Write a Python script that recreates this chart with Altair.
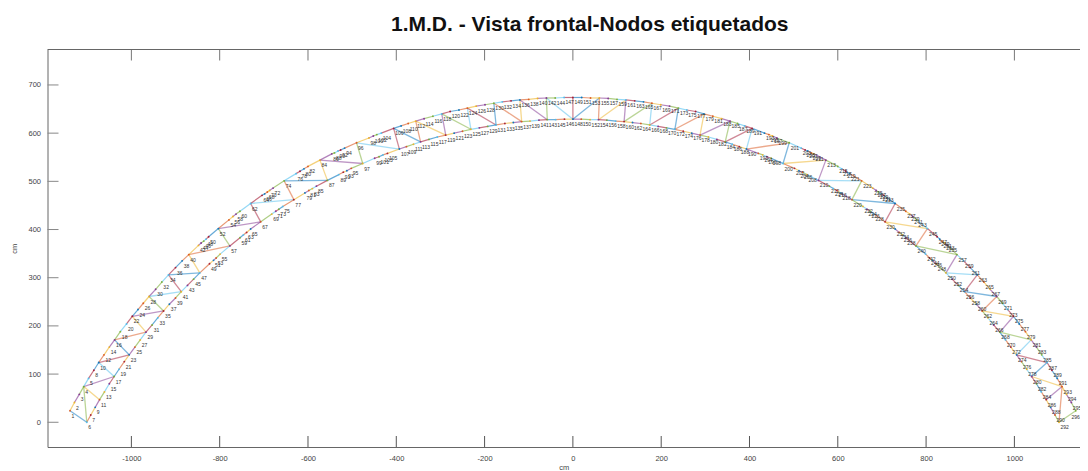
import altair as alt
import pandas as pd

TITLE = "1.M.D. - Vista frontal-Nodos etiquetados"
FONT = "Liberation Sans"
W, H = 1032.5, 397.5

# Upper chord nodes, left to right (cm)
top_x = [-1139,-1129,-1118,-1108,-1097,-1085,-1074,-1062,-1050,-1038,-1025,-1011,-998,-985,-973,-960,-945,-931,-916,-900,-885,-870,
         -848,-842,-836,-831,-825,-803,-779,-770,-763,-754,-730,-704,-698,-692,-687,-679,-654,-627,-618,-609,-600,-573,-546,-540,-532,-526,-517,-490,
         -462,-452,-444,-434,-406,-389,-373,-356,-337,-317,-297,-278,-258,-239,-219,-199,-179,-160,-140,-120,-100,-80,-60,-40,-20,
         0,20,40,60,80,100,120,140,160,179,199,219,239,258,278,297,317,337,356,373,389,406,434,444,452,462,490,517,526,532,540,546,573,
         600,609,618,627,654,679,687,692,698,704,730,754,763,770,779,803,825,831,836,842,848,870,885,900,916,931,945,960,973,985,998,1011,1025,1038,1050,1062,1074,1085,1097,1108,1118,1129,1139]
top_y = [24,41,58,74,91,108,124,140,156,171,188,204,220,234,247,261,276,291,306,321,335,348,
         367,372,376,380,385,402,420,427,432,438,454,471,474,478,481,486,501,516,521,526,531,544,557,559,563,565,569,580,
         590,594,597,600,610,615,620,625,630,635,640,645,648,652,656,659,662,665,667,669,670,672,673,673,674,
         674,674,673,673,672,670,669,667,665,662,659,656,652,648,645,640,635,630,625,620,615,610,600,597,594,590,580,569,565,563,559,557,544,
         531,526,521,516,501,486,481,478,474,471,454,438,432,427,420,402,385,380,376,372,367,348,335,321,306,291,276,261,247,234,220,204,188,171,156,140,124,108,91,74,58,41,24]

# Lower chord nodes, left to right (cm)
bot_x = [-1101,-1092,-1082,-1072,-1061,-1050,-1039,-1028,-1016,-1005,-992,-980,-967,-953,-940,-927,-914,-900,-887,-873,-859,-845,
         -823,-814,-808,-799,-777,-754,-746,-739,-730,-707,-682,-673,-666,-657,-632,-607,-598,-590,-581,-556,-530,-520,-512,-502,-476,
         -449,-439,-430,-420,-393,-377,-361,-345,-326,-307,-288,-269,-250,-231,-212,-193,-174,-154,-135,-116,-97,-77,-58,-39,-19,
         0,19,39,58,77,97,116,135,154,174,193,212,231,250,269,288,307,326,345,361,377,393,420,430,439,449,476,502,512,520,530,556,
         581,590,598,607,632,657,666,673,682,707,730,739,746,754,777,799,808,814,823,845,859,873,887,900,914,927,940,953,967,980,992,1005,1016,1028,1039,1050,1061,1072,1082,1092,1101]
bot_y = [0,15,31,47,63,80,95,110,126,140,156,171,187,202,217,231,245,258,271,284,297,310,
         329,336,341,349,366,383,389,394,401,416,432,438,442,448,462,476,481,485,490,502,514,519,522,527,537,
         548,551,555,558,567,572,577,582,587,592,596,600,604,608,611,614,617,620,622,624,625,627,628,628,629,
         629,629,628,628,627,625,624,622,620,617,614,611,608,604,600,596,592,587,582,577,572,567,558,555,551,548,537,527,522,519,514,502,
         490,485,481,476,462,448,442,438,432,416,401,394,389,383,366,349,341,336,329,310,297,284,271,258,245,231,217,202,187,171,156,140,126,110,95,80,63,47,31,15,0]

top_labels = [1,2,3,4,5] + list(range(8,145,2)) + list(range(147,294,2)) + [294,295]
bot_labels = [6] + list(range(7,146,2)) + list(range(146,293,2))

# Web members: upper node x, lower node x, colour key
web_top = [-1139,-1108,-1108,-1108,-1074,-1074,-1038,-1038,-998,-998,-960,-960,-916,-916,-870,-870,-803,-803,-730,-730,-654,-654,-573,-573,-490,-490,-406,-406,-356,-356,-297,-297,-239,-239,-179,-179,-120,-120,-60,-60,
           0,60,60,120,120,179,179,239,239,297,297,356,356,406,406,490,490,573,573,654,654,730,730,803,803,870,870,916,916,960,960,998,998,1038,1038,1074,1074,1108,1108,1108,1139]
web_bot = [-1101,-1101,-1072,-1039,-1039,-1005,-1005,-967,-967,-927,-927,-887,-887,-845,-845,-777,-777,-707,-707,-632,-632,-556,-556,-476,-476,-393,-393,-345,-345,-288,-288,-231,-231,-174,-174,-116,-116,-58,-58,0,
           0,0,58,58,116,116,174,174,231,231,288,288,345,345,393,393,476,476,556,556,632,632,707,707,777,777,845,845,887,887,927,927,967,967,1005,1005,1039,1039,1072,1101,1101]
web_col = ["b","g","y","p","l","d","b","o","y","p","g","l","d","b","y","o","g","p","d","l","o","b","y","p","g","l","d","b","o","y","p","g","l","d","b","o","y","p","g","l",
           "d","b","o","y","p","g","l","d","b","o","y","p","g","d","l","o","b","y","p","l","g","b","d","y","o","g","p","l","d","b","o","y","p","g","l","d","b","y","p","o","g"]

COLORS = {"b":"#0072BD","o":"#D95319","y":"#EDB120","p":"#7E2F8E","g":"#77AC30","l":"#4DBEEE","d":"#A2142F"}
CYCLE = "boypgld"

ty = dict(zip(top_x, top_y))
by = dict(zip(bot_x, bot_y))

web = pd.DataFrame({
    "x": web_top, "y": [ty[v] for v in web_top],
    "x2": web_bot, "y2": [by[v] for v in web_bot],
    "c": [COLORS[c] for c in web_col],
})

def chord(xs, ys, start):
    return pd.DataFrame({
        "x": xs[:-1], "y": ys[:-1], "x2": xs[1:], "y2": ys[1:],
        "c": [COLORS[CYCLE[(i + start) % 7]] for i in range(len(xs) - 1)],
    })

chords = pd.concat([chord(top_x, top_y, 2), chord(bot_x, bot_y, 1)], ignore_index=True)
all_x = top_x + bot_x
all_y = top_y + bot_y
nodes = pd.DataFrame({"x": all_x, "y": all_y,
                      "c": [COLORS[CYCLE[(i + 1) % 7]] for i in range(len(all_x))]})
# the last upper node (296) sits at the right edge: its label is placed separately
lab = pd.DataFrame({"x": top_x[:-1] + bot_x, "y": top_y[:-1] + bot_y,
                    "t": [str(v) for v in top_labels + bot_labels]})
lab_end = pd.DataFrame({"x": [1139], "y": [24], "t": ["296"]})

x_ticks = [-1000,-800,-600,-400,-200,0,200,400,600,800,1000]
y_ticks = [0,100,200,300,400,500,600,700]

xs = alt.Scale(domain=[-1190, 1148.6], nice=False, zero=False)
ys = alt.Scale(domain=[-51.3, 773.6], nice=False, zero=False)
X = lambda **k: alt.X("x:Q", scale=xs, **k)
Y = lambda **k: alt.Y("y:Q", scale=ys, **k)

axis_x = alt.Axis(values=x_ticks, ticks=False, grid=False, labelFont=FONT, labelFontSize=7.5, labelColor="#444",
                  labelExpr="'' + datum.value",
                  labelPadding=7, domainColor="#666", domainWidth=1, title="cm", titleFont=FONT, titleFontSize=7.5,
                  titleFontWeight="normal", titleColor="#444", titlePadding=2, labelFlush=False)
axis_y = alt.Axis(values=y_ticks, ticks=False, grid=False, labelFont=FONT, labelFontSize=7.5, labelColor="#444",
                  labelExpr="'' + datum.value",
                  labelPadding=7, domainColor="#666", domainWidth=1, title="cm", titleFont=FONT, titleFontSize=7.5,
                  titleFontWeight="normal", titleColor="#444", titlePadding=9)

web_layer = alt.Chart(web).mark_rule(strokeWidth=1.3, opacity=0.5).encode(
    x=X(axis=axis_x), y=Y(axis=axis_y), x2="x2:Q", y2="y2:Q", color=alt.Color("c:N", scale=None))
chord_layer = alt.Chart(chords).mark_rule(strokeWidth=1.2, opacity=0.6).encode(
    x=X(), y=Y(), x2="x2:Q", y2="y2:Q", color=alt.Color("c:N", scale=None))
dots = alt.Chart(nodes).mark_circle(size=3.5, opacity=0.9).encode(
    x=X(), y=Y(), color=alt.Color("c:N", scale=None))
labels = alt.Chart(lab).mark_text(align="left", baseline="middle", dx=1.5, dy=5, font=FONT, fontSize=5, color="#333").encode(
    x=X(), y=Y(), text="t:N")
label_end = alt.Chart(lab_end).mark_text(align="right", baseline="middle", dx=4, dy=6, font=FONT, fontSize=5, color="#333").encode(
    x=X(), y=Y(), text="t:N")

xt = pd.DataFrame({"x": x_ticks})
yt = pd.DataFrame({"y": y_ticks})
tick_bot = alt.Chart(xt).mark_rule(color="#555", strokeWidth=1).encode(x=X(), y=alt.value(H), y2=alt.value(H - 11))
tick_top = alt.Chart(xt).mark_rule(color="#777", strokeWidth=1).encode(x=X(), y=alt.value(0), y2=alt.value(11))
tick_left = alt.Chart(yt).mark_rule(color="#888", strokeWidth=1).encode(y=Y(), x=alt.value(0), x2=alt.value(11))
top_line = alt.Chart(pd.DataFrame({"a": [0]})).mark_rule(color="#666", strokeWidth=1).encode(
    x=alt.value(0), x2=alt.value(W), y=alt.value(0))

chart = alt.layer(web_layer, chord_layer, dots, labels, label_end, tick_bot, tick_top, tick_left, top_line).properties(
    width=W, height=H,
    title=alt.TitleParams(TITLE, font=FONT, fontSize=21, fontWeight="bold", color="#111", anchor="middle", dx=26, offset=14),
    autosize=alt.AutoSizeParams(type="none"),
    padding={"left": 39.5, "top": 41.5, "right": 0, "bottom": 24},
).configure_view(stroke=None)

chart.save("out.html", embed_options={"renderer": "svg", "actions": False})
